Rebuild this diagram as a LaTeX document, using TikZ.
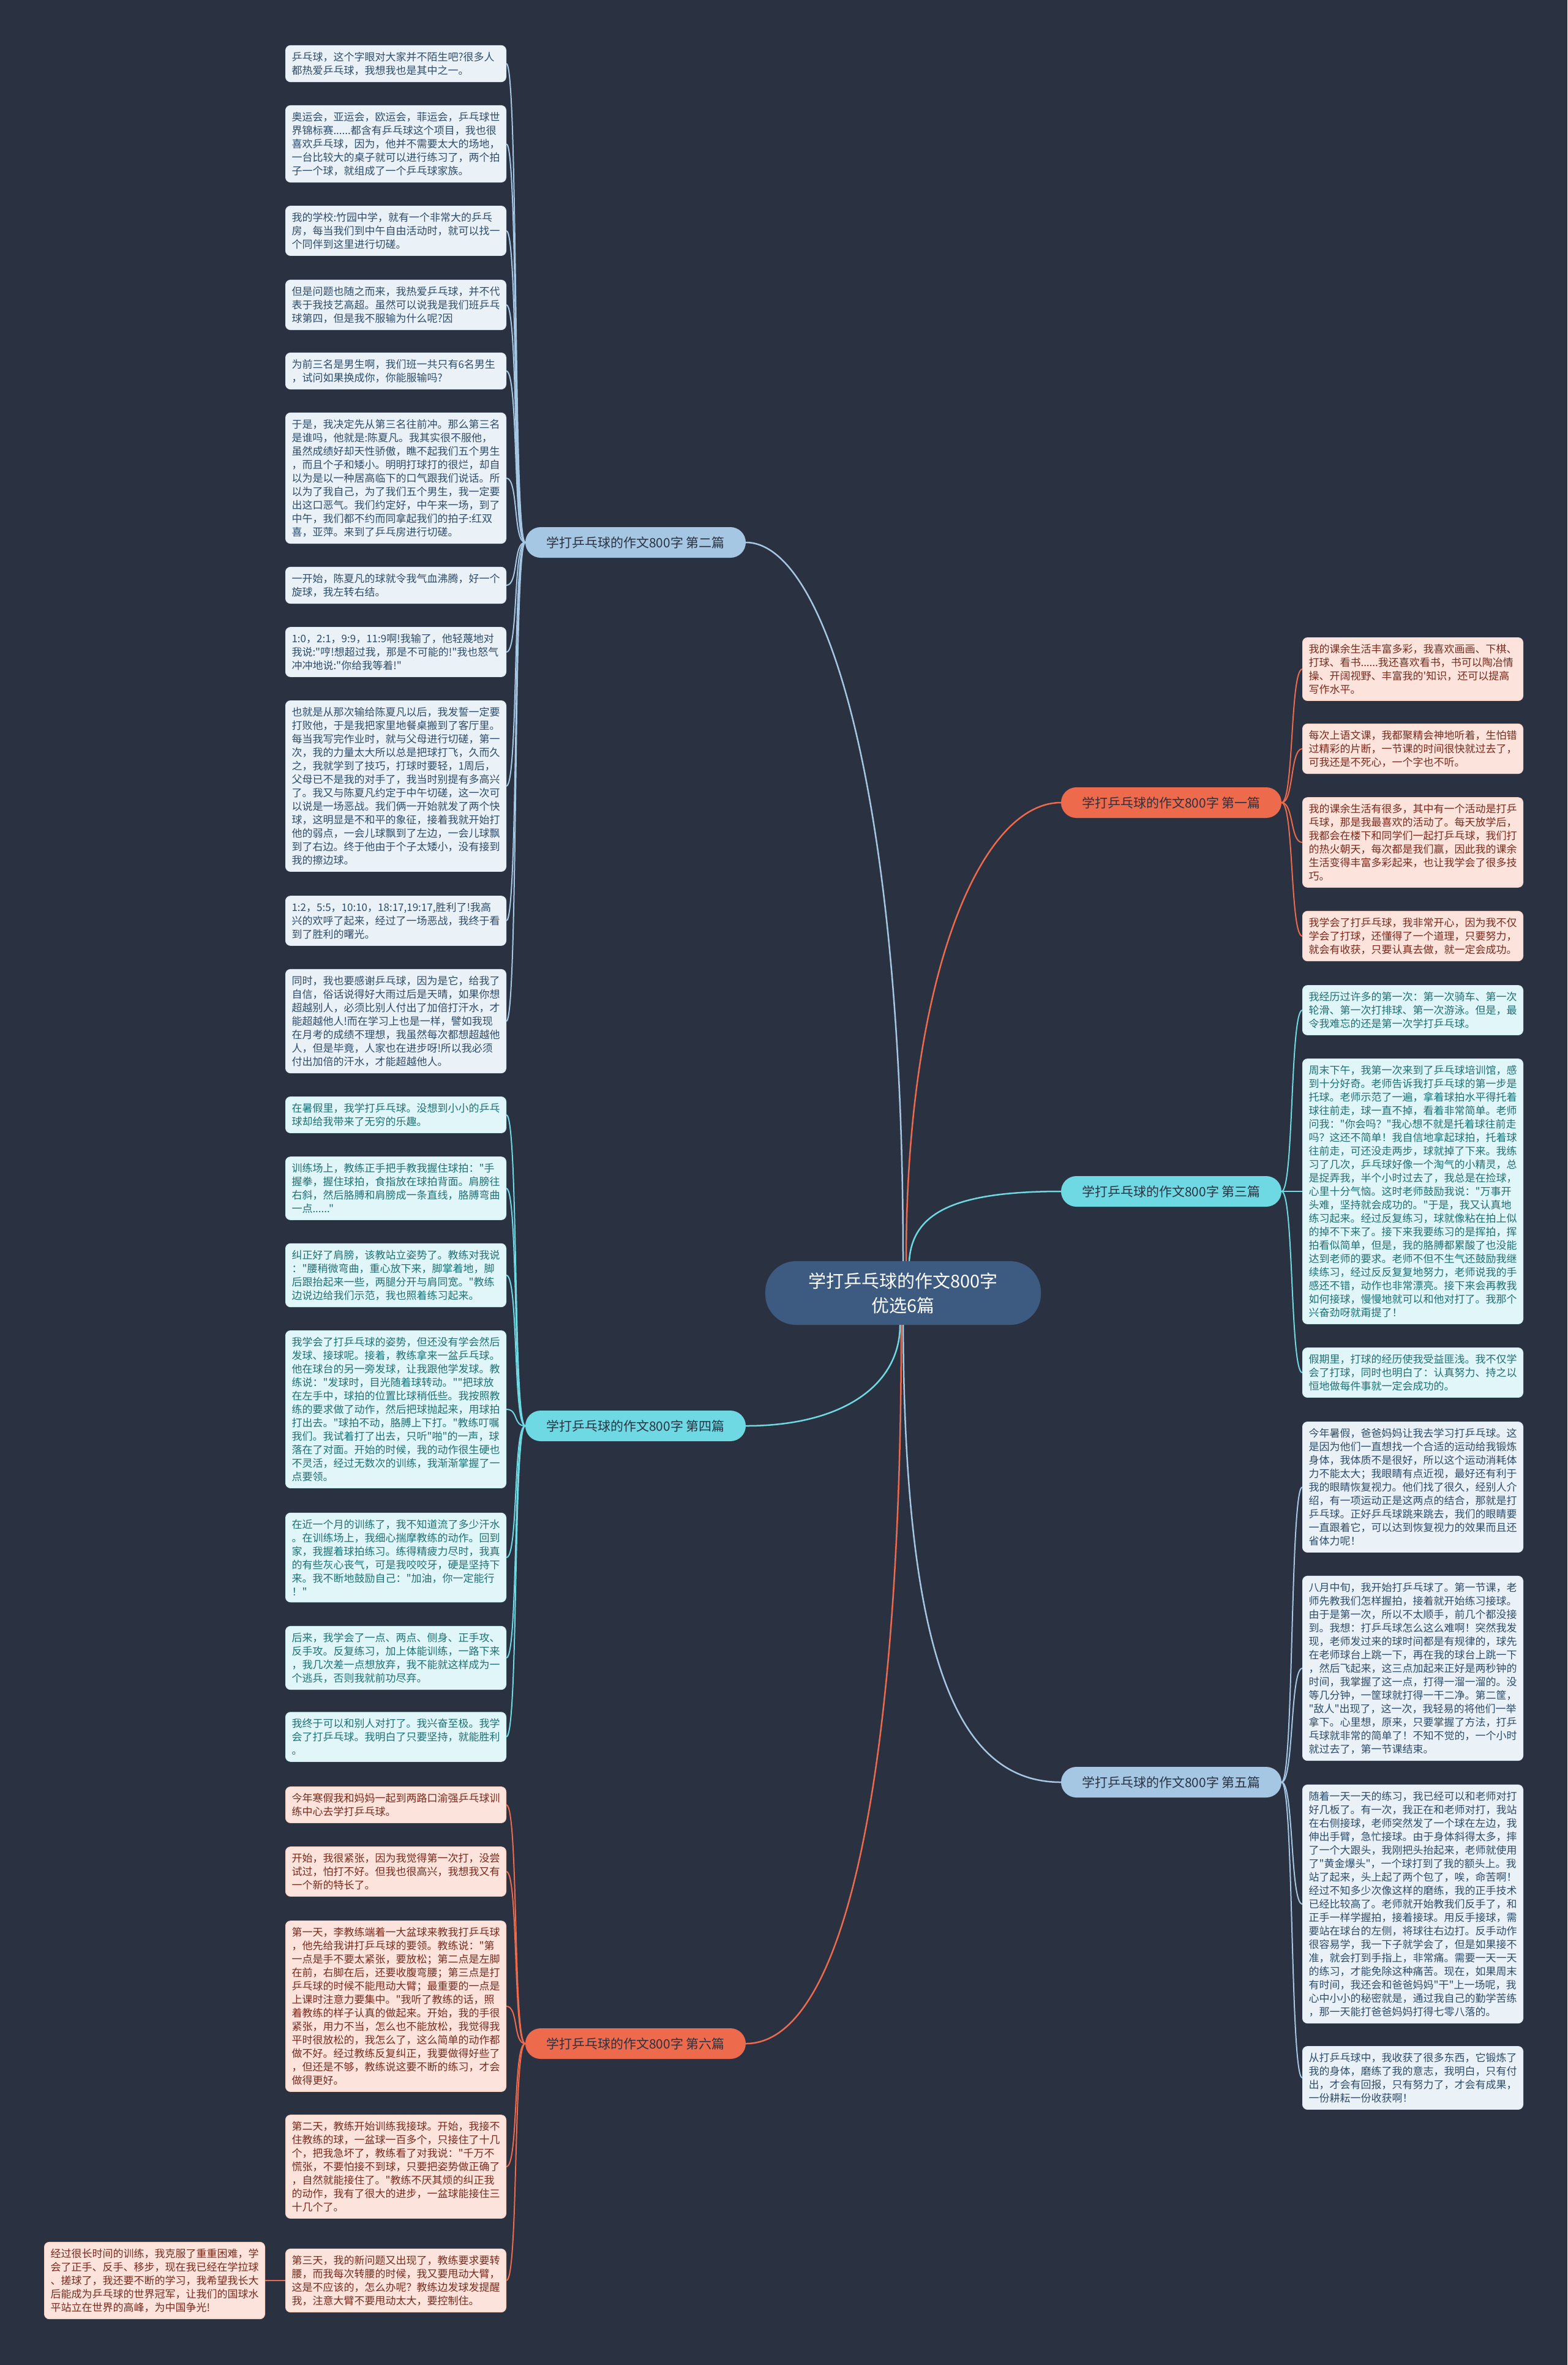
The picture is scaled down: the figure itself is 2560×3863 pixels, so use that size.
\documentclass[tikz,border=0pt]{standalone}
\usepackage{fontspec}
\newfontfamily\cjk{Noto Sans CJK SC}
\usepackage{tikz}
\usetikzlibrary{positioning}
\usepackage{xcolor}

\definecolor{bgnavy}{HTML}{2A3241}
\definecolor{rootblue}{HTML}{3D5A80}
\definecolor{pianred}{HTML}{EE6A4C}
\definecolor{pianblue}{HTML}{A5C7E3}
\definecolor{piancyan}{HTML}{6FD9E3}
\definecolor{redfill}{HTML}{FCE4DC}
\definecolor{bluefill}{HTML}{EAF2F8}
\definecolor{cyanfill}{HTML}{E0F6F8}
\definecolor{redtext}{HTML}{7A2A1C}
\definecolor{bluetext}{HTML}{2D4C6C}
\definecolor{cyantext}{HTML}{1E7076}

\begin{document}
\begin{tikzpicture}[
            x=1pt, y=-1pt,
            zhuti/.style={
                fill=rootblue,
                text=white,
                rounded corners=50pt,
                minimum width=450pt,
                minimum height=104pt,
                align=center,
                font=\cjk\fontsize{29}{40}\selectfont
            },
            pian/.style={
                rounded corners=25pt,
                minimum width=360pt,
                minimum height=50pt,
                text=bgnavy,
                font=\cjk\fontsize{21}{26}\selectfont
            },
            leaf/.style={
                rounded corners=8pt,
                text width=340pt,
                align=left,
                inner xsep=10pt,
                inner ysep=10.5pt,
                anchor=west,
                line width=1pt,
                font=\cjk\fontsize{17}{22}\selectfont
            },
            leafred/.style={leaf, fill=redfill, draw=redfill!85!pianred, text=redtext},
            leafblue/.style={leaf, fill=bluefill, draw=bluefill!85!pianblue, text=bluetext},
            leafcyan/.style={leaf, fill=cyanfill, draw=cyanfill!85!piancyan, text=cyantext},
            trunk/.style={line width=2.5pt},
            link/.style={line width=2pt}
        ]

        \fill[bgnavy] (0,0) rectangle (2560,3863);
        \useasboundingbox (0,0) rectangle (2560,3863);

        % centre and the six essays
        \node[zhuti] (zhuti) at (1475,2112) {学打乒乓球的作文800字\\优选6篇};
        \node[pian, fill=pianred] (p1) at (1913,1311) {学打乒乓球的作文800字 第一篇};
        \node[pian, fill=pianblue] (p2) at (1038,886) {学打乒乓球的作文800字 第二篇};
        \node[pian, fill=piancyan] (p3) at (1913,1946) {学打乒乓球的作文800字 第三篇};
        \node[pian, fill=piancyan] (p4) at (1038,2329) {学打乒乓球的作文800字 第四篇};
        \node[pian, fill=pianblue] (p5) at (1913,2911) {学打乒乓球的作文800字 第五篇};
        \node[pian, fill=pianred] (p6) at (1038,3338) {学打乒乓球的作文800字 第六篇};

        % 第一篇
        \node[leafred] (l1a) at (2127,1093) {我的课余生活丰富多彩，我喜欢画画、下棋、\\打球、看书......我还喜欢看书，书可以陶冶情\\操、开阔视野、丰富我的'知识，还可以提高\\写作水平。};
        \node[leafred] (l1b) at (2127,1223) {每次上语文课，我都聚精会神地听着，生怕错\\过精彩的片断，一节课的时间很快就过去了，\\可我还是不死心，一个字也不听。};
        \node[leafred] (l1c) at (2127,1376) {我的课余生活有很多，其中有一个活动是打乒\\乓球，那是我最喜欢的活动了。每天放学后，\\我都会在楼下和同学们一起打乒乓球，我们打\\的热火朝天，每次都是我们赢，因此我的课余\\生活变得丰富多彩起来，也让我学会了很多技\\巧。};
        \node[leafred] (l1d) at (2127,1529) {我学会了打乒乓球，我非常开心，因为我不仅\\学会了打球，还懂得了一个道理，只要努力，\\就会有收获，只要认真去做，就一定会成功。};

        % 第二篇
        \node[leafblue] (l2a) at (466,104) {乒乓球，这个字眼对大家并不陌生吧?很多人\\都热爱乒乓球，我想我也是其中之一。};
        \node[leafblue] (l2b) at (466,235) {奥运会，亚运会，欧运会，菲运会，乒乓球世\\界锦标赛......都含有乒乓球这个项目，我也很\\喜欢乒乓球，因为，他并不需要太大的场地，\\一台比较大的桌子就可以进行练习了，两个拍\\子一个球，就组成了一个乒乓球家族。};
        \node[leafblue] (l2c) at (466,377) {我的学校:竹园中学，就有一个非常大的乒乓\\房，每当我们到中午自由活动时，就可以找一\\个同伴到这里进行切磋。};
        \node[leafblue] (l2d) at (466,498) {但是问题也随之而来，我热爱乒乓球，并不代\\表于我技艺高超。虽然可以说我是我们班乒乓\\球第四，但是我不服输为什么呢?因};
        \node[leafblue] (l2e) at (466,606) {为前三名是男生啊，我们班一共只有6名男生\\，试问如果换成你，你能服输吗?};
        \node[leafblue] (l2f) at (466,781) {于是，我决定先从第三名往前冲。那么第三名\\是谁吗，他就是:陈夏凡。我其实很不服他，\\虽然成绩好却天性骄傲，瞧不起我们五个男生\\，而且个子和矮小。明明打球打的很烂，却自\\以为是以一种居高临下的口气跟我们说话。所\\以为了我自己，为了我们五个男生，我一定要\\出这口恶气。我们约定好，中午来一场，到了\\中午，我们都不约而同拿起我们的拍子:红双\\喜，亚萍。来到了乒乓房进行切磋。};
        \node[leafblue] (l2g) at (466,956) {一开始，陈夏凡的球就令我气血沸腾，好一个\\旋球，我左转右结。};
        \node[leafblue] (l2h) at (466,1065) {1:0，2:1，9:9，11:9啊!我输了，他轻蔑地对\\我说:"哼!想超过我，那是不可能的!"我也怒气\\冲冲地说:"你给我等着!"};
        \node[leafblue] (l2i) at (466,1284) {也就是从那次输给陈夏凡以后，我发誓一定要\\打败他，于是我把家里地餐桌搬到了客厅里。\\每当我写完作业时，就与父母进行切磋，第一\\次，我的力量太大所以总是把球打飞，久而久\\之，我就学到了技巧，打球时要轻，1周后，\\父母已不是我的对手了，我当时别提有多高兴\\了。我又与陈夏凡约定于中午切磋，这一次可\\以说是一场恶战。我们俩一开始就发了两个快\\球，这明显是不和平的象征，接着我就开始打\\他的弱点，一会儿球飘到了左边，一会儿球飘\\到了右边。终于他由于个子太矮小，没有接到\\我的擦边球。};
        \node[leafblue] (l2j) at (466,1504) {1:2，5:5，10:10，18:17,19:17,胜利了!我高\\兴的欢呼了起来，经过了一场恶战，我终于看\\到了胜利的曙光。};
        \node[leafblue] (l2k) at (466,1668) {同时，我也要感谢乒乓球，因为是它，给我了\\自信，俗话说得好大雨过后是天晴，如果你想\\超越别人，必须比别人付出了加倍打汗水，才\\能超越他人!而在学习上也是一样，譬如我现\\在月考的成绩不理想，我虽然每次都想超越他\\人，但是毕竟，人家也在进步呀!所以我必须\\付出加倍的汗水，才能超越他人。};

        % 第三篇
        \node[leafcyan] (l3a) at (2127,1650) {我经历过许多的第一次：第一次骑车、第一次\\轮滑、第一次打排球、第一次游泳。但是，最\\令我难忘的还是第一次学打乒乓球。};
        \node[leafcyan] (l3b) at (2127,1946) {周末下午，我第一次来到了乒乓球培训馆，感\\到十分好奇。老师告诉我打乒乓球的第一步是\\托球。老师示范了一遍，拿着球拍水平得托着\\球往前走，球一直不掉，看着非常简单。老师\\问我："你会吗？"我心想不就是托着球往前走\\吗？这还不简单！我自信地拿起球拍，托着球\\往前走，可还没走两步，球就掉了下来。我练\\习了几次，乒乓球好像一个淘气的小精灵，总\\是捉弄我，半个小时过去了，我总是在捡球，\\心里十分气恼。这时老师鼓励我说："万事开\\头难，坚持就会成功的。"于是，我又认真地\\练习起来。经过反复练习，球就像粘在拍上似\\的掉不下来了。接下来我要练习的是挥拍，挥\\拍看似简单，但是，我的胳膊都累酸了也没能\\达到老师的要求。老师不但不生气还鼓励我继\\续练习，经过反反复复地努力，老师说我的手\\感还不错，动作也非常漂亮。接下来会再教我\\如何接球，慢慢地就可以和他对打了。我那个\\兴奋劲呀就甭提了！};
        \node[leafcyan] (l3c) at (2127,2242) {假期里，打球的经历使我受益匪浅。我不仅学\\会了打球，同时也明白了：认真努力、持之以\\恒地做每件事就一定会成功的。};

        % 第四篇
        \node[leafcyan] (l4a) at (466,1821) {在暑假里，我学打乒乓球。没想到小小的乒乓\\球却给我带来了无穷的乐趣。};
        \node[leafcyan] (l4b) at (466,1941) {训练场上，教练正手把手教我握住球拍："手\\握拳，握住球拍，食指放在球拍背面。肩膀往\\右斜，然后胳膊和肩膀成一条直线，胳膊弯曲\\一点......"};
        \node[leafcyan] (l4c) at (466,2083) {纠正好了肩膀，该教站立姿势了。教练对我说\\："腰稍微弯曲，重心放下来，脚掌着地，脚\\后跟抬起来一些，两腿分开与肩同宽。"教练\\边说边给我们示范，我也照着练习起来。};
        \node[leafcyan] (l4d) at (466,2302) {我学会了打乒乓球的姿势，但还没有学会然后\\发球、接球呢。接着，教练拿来一盆乒乓球。\\他在球台的另一旁发球，让我跟他学发球。教\\练说："发球时，目光随着球转动。""把球放\\在左手中，球拍的位置比球稍低些。我按照教\\练的要求做了动作，然后把球抛起来，用球拍\\打出去。"球拍不动，胳膊上下打。"教练叮嘱\\我们。我试着打了出去，只听"啪"的一声，球\\落在了对面。开始的时候，我的动作很生硬也\\不灵活，经过无数次的训练，我渐渐掌握了一\\点要领。};
        \node[leafcyan] (l4e) at (466,2544) {在近一个月的训练了，我不知道流了多少汗水\\。在训练场上，我细心揣摩教练的动作。回到\\家，我握着球拍练习。练得精疲力尽时，我真\\的有些灰心丧气，可是我咬咬牙，硬是坚持下\\来。我不断地鼓励自己："加油，你一定能行\\！"};
        \node[leafcyan] (l4f) at (466,2708) {后来，我学会了一点、两点、侧身、正手攻、\\反手攻。反复练习，加上体能训练，一路下来\\，我几次差一点想放弃，我不能就这样成为一\\个逃兵，否则我就前功尽弃。};
        \node[leafcyan] (l4g) at (466,2837) {我终于可以和别人对打了。我兴奋至极。我学\\会了打乒乓球。我明白了只要坚持，就能胜利\\。};

        % 第五篇
        \node[leafblue] (l5a) at (2127,2429) {今年暑假，爸爸妈妈让我去学习打乒乓球。这\\是因为他们一直想找一个合适的运动给我锻炼\\身体，我体质不是很好，所以这个运动消耗体\\力不能太大；我眼睛有点近视，最好还有利于\\我的眼睛恢复视力。他们找了很久，经别人介\\绍，有一项运动正是这两点的结合，那就是打\\乒乓球。正好乒乓球跳来跳去，我们的眼睛要\\一直跟着它，可以达到恢复视力的效果而且还\\省体力呢！};
        \node[leafblue] (l5b) at (2127,2725) {八月中旬，我开始打乒乓球了。第一节课，老\\师先教我们怎样握拍，接着就开始练习接球。\\由于是第一次，所以不太顺手，前几个都没接\\到。我想：打乒乓球怎么这么难啊！突然我发\\现，老师发过来的球时间都是有规律的，球先\\在老师球台上跳一下，再在我的球台上跳一下\\，然后飞起来，这三点加起来正好是两秒钟的\\时间，我掌握了这一点，打得一溜一溜的。没\\等几分钟，一筐球就打得一干二净。第二筐，\\"敌人"出现了，这一次，我轻易的将他们一举\\拿下。心里想，原来，只要掌握了方法，打乒\\乓球就非常的简单了！不知不觉的，一个小时\\就过去了，第一节课结束。};
        \node[leafblue] (l5c) at (2127,3110) {随着一天一天的练习，我已经可以和老师对打\\好几板了。有一次，我正在和老师对打，我站\\在右侧接球，老师突然发了一个球在左边，我\\伸出手臂，急忙接球。由于身体斜得太多，摔\\了一个大跟头，我刚把头抬起来，老师就使用\\了"黄金爆头"，一个球打到了我的额头上。我\\站了起来，头上起了两个包了，唉，命苦啊！\\经过不知多少次像这样的磨练，我的正手技术\\已经比较高了。老师就开始教我们反手了，和\\正手一样学握拍，接着接球。用反手接球，需\\要站在球台的左侧，将球往右边打。反手动作\\很容易学，我一下子就学会了，但是如果接不\\准，就会打到手指上，非常痛。需要一天一天\\的练习，才能免除这种痛苦。现在，如果周末\\有时间，我还会和爸爸妈妈"干"上一场呢，我\\心中小小的秘密就是，通过我自己的勤学苦练\\，那一天能打爸爸妈妈打得七零八落的。};
        \node[leafblue] (l5d) at (2127,3394) {从打乒乓球中，我收获了很多东西，它锻炼了\\我的身体，磨练了我的意志，我明白，只有付\\出，才会有回报，只有努力了，才会有成果，\\一份耕耘一份收获啊！};

        % 第六篇
        \node[leafred] (l6a) at (466,2948) {今年寒假我和妈妈一起到两路口渝强乒乓球训\\练中心去学打乒乓球。};
        \node[leafred] (l6b) at (466,3057) {开始，我很紧张，因为我觉得第一次打，没尝\\试过，怕打不好。但我也很高兴，我想我又有\\一个新的特长了。};
        \node[leafred] (l6c) at (466,3277) {第一天，李教练端着一大盆球来教我打乒乓球\\，他先给我讲打乒乓球的要领。教练说："第\\一点是手不要太紧张，要放松；第二点是左脚\\在前，右脚在后，还要收腹弯腰；第三点是打\\乒乓球的时候不能甩动大臂；最重要的一点是\\上课时注意力要集中。"我听了教练的话，照\\着教练的样子认真的做起来。开始，我的手很\\紧张，用力不当，怎么也不能放松，我觉得我\\平时很放松的，我怎么了，这么简单的动作都\\做不好。经过教练反复纠正，我要做得好些了\\，但还是不够，教练说这要不断的练习，才会\\做得更好。};
        \node[leafred] (l6d) at (466,3539) {第二天，教练开始训练我接球。开始，我接不\\住教练的球，一盆球一百多个，只接住了十几\\个，把我急坏了，教练看了对我说："千万不\\慌张，不要怕接不到球，只要把姿势做正确了\\，自然就能接住了。"教练不厌其烦的纠正我\\的动作，我有了很大的进步，一盆球能接住三\\十几个了。};
        \node[leafred] (l6e) at (466,3725) {第三天，我的新问题又出现了，教练要求要转\\腰，而我每次转腰的时候，我又要甩动大臂，\\这是不应该的，怎么办呢？教练边发球发提醒\\我，注意大臂不要甩动太大，要控制住。};
        \node[leafred, anchor=east, left=33pt of l6e] (l6f) {经过很长时间的训练，我克服了重重困难，学\\会了正手、反手、移步，现在我已经在学拉球\\、搓球了，我还要不断的学习，我希望我长大\\后能成为乒乓球的世界冠军，让我们的国球水\\平站立在世界的高峰，为中国争光!};

        % centre to essays
        \draw[trunk, pianred] ([xshift=5pt]zhuti.north) .. controls (1480,1600) and (1600,1311) .. (p1.west);
        \draw[trunk, pianblue] (zhuti.north) .. controls (1475,1300) and (1350,886) .. (p2.east);
        \draw[trunk, piancyan] ([xshift=10pt]zhuti.north) .. controls (1490,1980) and (1560,1946) .. (p3.west);
        \draw[trunk, piancyan] ([xshift=-5pt]zhuti.south) .. controls (1470,2260) and (1380,2329) .. (p4.east);
        \draw[trunk, pianblue] (zhuti.south) .. controls (1478,2700) and (1560,2911) .. (p5.west);
        \draw[trunk, pianred] ([xshift=-3pt]zhuti.south) .. controls (1472,2900) and (1380,3338) .. (p6.east);

        % essays to paragraphs
        \foreach \n in {a,...,d}
            \draw[link, pianred] (p1.east) .. controls +(20,0) and +(-20,0) .. (l1\n.west);
        \foreach \n in {a,...,k}
            \draw[link, pianblue] (p2.west) .. controls +(-20,0) and +(20,0) .. (l2\n.east);
        \foreach \n in {a,...,c}
            \draw[link, piancyan] (p3.east) .. controls +(20,0) and +(-20,0) .. (l3\n.west);
        \foreach \n in {a,...,g}
            \draw[link, piancyan] (p4.west) .. controls +(-20,0) and +(20,0) .. (l4\n.east);
        \foreach \n in {a,...,d}
            \draw[link, pianblue] (p5.east) .. controls +(20,0) and +(-20,0) .. (l5\n.west);
        \foreach \n in {a,...,e}
            \draw[link, pianred] (p6.west) .. controls +(-20,0) and +(20,0) .. (l6\n.east);
        \draw[trunk, pianred] (l6e.west) -- (l6f.east);

        \end{tikzpicture}
\end{document}
